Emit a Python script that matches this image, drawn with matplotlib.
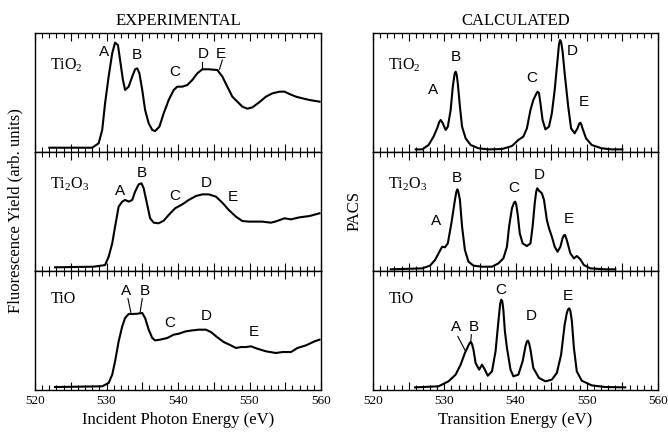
import matplotlib.pyplot as plt
from matplotlib.ticker import MultipleLocator, FuncFormatter

plt.rcParams['font.family'] = 'Liberation Serif'
plt.rcParams['mathtext.fontset'] = 'custom'
plt.rcParams['mathtext.rm'] = 'Liberation Serif'
plt.rcParams['mathtext.default'] = 'rm'

# ---- experimental spectra (energy in eV, intensity in arb. units 0-100)
exp_tio2_e = [522.0, 528.0, 528.9, 529.4, 529.8, 530.3, 530.8, 531.2, 531.6, 531.9, 532.3,
              532.6, 533.1, 533.6, 534.0, 534.3, 534.6, 535.0, 535.4, 535.9, 536.4, 536.8,
              537.4, 538.0, 538.7, 539.4, 539.9, 540.6, 541.3, 542.0, 542.7, 543.4, 544.3,
              545.5, 546.2, 546.9, 547.6, 548.3, 549.0, 549.7, 550.4, 551.3, 552.3, 553.2,
              554.2, 554.9, 555.6, 556.5, 557.4, 558.4, 559.8]
exp_tio2_y = [3.6, 3.6, 7.3, 18.5, 40.9, 63.4, 83.0, 91.9, 89.9, 77.3, 60.5,
              52.1, 54.9, 63.4, 69.5, 70.3, 66.1, 52.1, 35.3, 24.1, 18.5, 17.6,
              21.3, 32.5, 43.7, 52.1, 54.9, 54.9, 56.3, 60.5, 66.1, 69.5, 69.5,
              68.9, 63.4, 54.9, 46.5, 42.3, 38.1, 36.4, 37.5, 41.5, 46.5, 49.3,
              50.7, 50.7, 48.7, 46.5, 45.1, 43.7, 42.3]

exp_ti2o3_e = [522.8, 528.2, 529.8, 530.3, 530.8, 531.2, 531.7, 532.2, 532.6, 533.1, 533.6,
               534.0, 534.5, 534.9, 535.2, 535.7, 536.1, 536.6, 537.3, 538.0, 538.7, 539.6,
               540.6, 541.5, 542.5, 543.4, 544.3, 545.3, 546.2, 547.1, 548.1, 549.0, 549.9,
               551.8, 553.0, 553.7, 554.9, 555.8, 557.0, 558.4, 559.8]
exp_ti2o3_y = [3.1, 3.6, 5.0, 12.0, 23.2, 37.3, 54.1, 58.3, 59.7, 58.3, 59.7,
               66.7, 72.8, 73.7, 69.5, 55.5, 44.3, 40.6, 40.1, 42.3, 47.1, 52.7,
               56.0, 59.7, 63.0, 64.4, 64.4, 62.5, 57.4, 51.3, 45.7, 42.0, 41.5,
               41.5, 40.6, 41.7, 44.3, 43.4, 45.1, 46.2, 48.5]

exp_tio_e = [522.8, 529.4, 530.3, 530.8, 531.2, 531.7, 532.2, 532.6, 533.1, 533.8, 534.3,
             535.0, 535.4, 535.9, 536.4, 536.8, 537.5, 538.5, 539.4, 540.1, 541.1, 542.0,
             542.9, 543.9, 544.6, 545.5, 546.4, 547.4, 548.1, 548.8, 549.5, 550.2, 551.1,
             552.3, 553.7, 554.6, 555.8, 556.7, 557.9, 559.1, 559.8]
exp_tio_y = [2.5, 3.1, 5.9, 12.9, 24.1, 40.9, 53.5, 60.5, 63.9, 63.9, 64.1,
             64.7, 60.5, 50.7, 43.7, 41.7, 42.3, 43.7, 46.5, 47.3, 49.3, 50.1,
             50.7, 50.7, 48.7, 44.3, 40.3, 37.5, 35.3, 36.1, 36.1, 36.7, 34.7,
             32.5, 31.1, 31.9, 31.9, 35.3, 37.5, 40.9, 42.3]

# ---- calculated spectra
calc_tio2_e = [526.0, 526.9, 527.8, 528.5, 529.0, 529.3, 529.5, 529.8, 530.2, 530.5, 530.9,
               531.2, 531.45, 531.6, 531.75, 531.9, 532.2, 532.5, 533.0, 533.7, 534.8, 536.2,
               538.1, 539.5, 540.4, 541.1, 541.6, 542.1, 542.5, 542.9, 543.1, 543.3, 543.5,
               543.8, 544.2, 544.7, 545.1, 545.5, 545.9, 546.1, 546.25, 546.4, 546.6, 546.9,
               547.4, 547.8, 548.3, 548.7, 548.95, 549.1, 549.25, 549.4, 549.9, 550.7, 552.1,
               553.5, 555.0]
calc_tio2_y = [2.2, 2.2, 5.9, 12.9, 19.9, 25.2, 26.9, 24.1, 18.5, 21.3, 35.3,
               54.9, 65.5, 67.5, 65.0, 57.7, 38.1, 21.3, 11.5, 5.9, 3.1, 2.2,
               2.5, 5.0, 10.1, 12.9, 19.9, 35.3, 43.7, 48.7, 50.7, 49.5, 40.9,
               26.9, 19.0, 21.3, 32.5, 52.1, 77.3, 90.5, 94.1, 92.5, 85.0, 66.1,
               38.1, 19.9, 15.7, 19.9, 23.8, 24.6, 23.0, 19.9, 11.5, 5.9, 3.1,
               2.2, 2.2]

calc_ti2o3_e = [522.5, 526.9, 528.0, 528.7, 529.2, 529.7, 530.1, 530.5, 531.0, 531.5, 531.7,
                531.85, 532.0, 532.2, 532.5, 532.9, 533.4, 534.1, 535.3, 536.7, 537.6, 538.3,
                538.8, 539.1, 539.5, 539.8, 539.95, 540.1, 540.3, 540.6, 541.0, 541.6, 542.1,
                542.4, 542.7, 542.9, 543.05, 543.3, 543.7, 544.0, 544.4, 544.7, 545.1, 545.5,
                545.9, 546.3, 546.6, 546.8, 546.95, 547.2, 547.7, 548.2, 548.6, 549.1, 549.6,
                550.5, 552.6, 554.0]
calc_ti2o3_y = [1.4, 2.2, 4.5, 9.2, 14.8, 20.4, 19.9, 23.2, 40.1, 59.7, 66.5,
                68.6, 66.0, 59.7, 37.3, 17.6, 7.8, 4.5, 3.6, 3.6, 6.4, 10.6,
                20.4, 37.3, 52.7, 57.5, 58.3, 56.0, 48.0, 31.7, 23.2, 21.0, 23.2,
                37.3, 56.9, 66.5, 69.5, 67.5, 65.3, 59.7, 42.9, 35.9, 28.9, 20.4,
                16.2, 20.4, 27.5, 30.0, 30.3, 26.0, 14.8, 10.6, 12.6, 9.8, 5.0,
                2.2, 1.4, 1.4]

calc_tio_e = [525.9, 529.2, 530.6, 531.6, 532.3, 532.9, 533.4, 533.6, 533.75, 533.9, 534.1,
              534.4, 534.9, 535.3, 535.7, 536.1, 536.7, 537.2, 537.6, 537.85, 538.0, 538.15,
              538.3, 538.5, 538.8, 539.3, 539.7, 540.4, 541.0, 541.4, 541.6, 541.75, 541.9,
              542.1, 542.5, 543.3, 544.2, 545.1, 545.8, 546.4, 546.9, 547.2, 547.4, 547.55,
              547.7, 547.9, 548.2, 548.6, 549.3, 550.7, 552.6, 555.4]
calc_tio_y = [2.2, 3.1, 7.3, 12.9, 21.3, 31.1, 37.5, 39.8, 40.3, 38.5, 33.9,
              22.7, 17.1, 21.3, 17.1, 12.0, 15.7, 32.5, 57.7, 72.5, 75.9, 74.5,
              67.0, 50.0, 35.3, 17.1, 11.5, 12.9, 24.1, 36.7, 40.8, 41.5, 39.5,
              33.9, 18.5, 10.1, 7.3, 8.7, 14.3, 29.7, 54.9, 64.7, 68.0, 68.6,
              66.5, 58.5, 35.3, 15.7, 7.8, 3.9, 2.5, 2.2]

compounds = ['TiO$_2$', 'Ti$_2$O$_3$', 'TiO']
compound_pos = [(524.4, 73), (524.8, 72.5), (524.0, 76.8)]

# peak letters: (letter, energy, height)
exp_letters = [
    [('A', 529.6, 84), ('B', 534.3, 81.5), ('C', 539.6, 67.5), ('D', 543.5, 82), ('E', 546.0, 82)],
    [('A', 531.9, 67.5), ('B', 534.9, 82.6), ('C', 539.6, 63), ('D', 544.0, 73.7), ('E', 547.6, 62.5)],
    [('A', 532.8, 82.9), ('B', 535.4, 82.9), ('C', 538.9, 56.3), ('D', 543.9, 62.5), ('E', 550.6, 49)],
]
calc_letters = [
    [('A', 528.4, 52), ('B', 531.6, 80), ('C', 542.3, 62), ('D', 547.9, 85), ('E', 549.6, 42)],
    [('A', 528.8, 42.3), ('B', 531.8, 78), ('C', 539.7, 69.5), ('D', 543.4, 81), ('E', 547.5, 43.4)],
    [('A', 531.6, 52.7), ('B', 534.1, 52.7), ('C', 537.9, 84), ('D', 542.2, 62), ('E', 547.3, 79)],
]
# leader lines from letter to feature: (x0, x1), (y0, y1)
exp_leaders = [
    [((543.3, 543.3), (75.9, 69.5)), ((546.2, 545.8), (77.3, 69.5))],
    [],
    [((533.0, 533.4), (76.8, 65.3)), ((535.0, 534.7), (76.8, 65.3))],
]
calc_leaders = [
    [],
    [],
    [((531.9, 533.0), (45.1, 32.5)), ((533.8, 533.7), (46.5, 39.5))],
]

exp_data = [(exp_tio2_e, exp_tio2_y), (exp_ti2o3_e, exp_ti2o3_y), (exp_tio_e, exp_tio_y)]
calc_data = [(calc_tio2_e, calc_tio2_y), (calc_ti2o3_e, calc_ti2o3_y), (calc_tio_e, calc_tio_y)]

fig = plt.figure(figsize=(6.68, 4.33), dpi=100)

W, H = 668.0, 433.0
top_px, panel_px = 33.0, 119.0
columns = [(35.0, 286.0, exp_data, exp_letters, exp_leaders),
           (373.0, 285.0, calc_data, calc_letters, calc_leaders)]

axes = []
for left_px, width_px, data, letters, leaders in columns:
    col = []
    for i in range(3):
        bottom = 1 - (top_px + panel_px * (i + 1)) / H
        ax = fig.add_axes([left_px / W, bottom, width_px / W, panel_px / H])
        e, y = data[i]
        ax.plot(e, y, color='black', lw=1.5, solid_joinstyle='round')
        ax.set_xlim(520, 560)
        ax.set_ylim(0, 100)
        ax.set_yticks([])
        ax.xaxis.set_major_locator(MultipleLocator(5))
        ax.xaxis.set_minor_locator(MultipleLocator(1))
        ax.xaxis.set_major_formatter(FuncFormatter(
            lambda v, p: '%d' % v if round(v) % 10 == 0 else ''))
        ax.tick_params(axis='x', which='both', direction='in', top=True, bottom=True,
                       labelsize=9.5, width=0.8)
        ax.tick_params(axis='x', which='major', length=6)
        ax.tick_params(axis='x', which='minor', length=3.5)
        if i < 2:
            ax.tick_params(axis='x', labelbottom=False)
        for s in ax.spines.values():
            s.set_linewidth(1.0)
        cx, cy = compound_pos[i]
        ax.text(cx, cy, compounds[i], fontsize=11.5, ha='center', va='center')
        for lab, lx, ly in letters[i]:
            ax.text(lx, ly, lab, fontsize=11, family='Liberation Sans',
                    ha='center', va='center')
        for xs, ys in leaders[i]:
            ax.plot(xs, ys, color='black', lw=0.8)
        col.append(ax)
    axes.append(col)

axes[0][0].set_title('EXPERIMENTAL', fontsize=12, pad=6)
axes[1][0].set_title('CALCULATED', fontsize=12, pad=6)
axes[0][2].set_xlabel('Incident Photon Energy (eV)', fontsize=12, labelpad=4)
axes[1][2].set_xlabel('Transition Energy (eV)', fontsize=12, labelpad=4)

fig.text(15 / W, 1 - 211 / H, 'Fluorescence Yield (arb. units)', rotation=90,
         fontsize=12, ha='center', va='center')
fig.text(355 / W, 1 - 211 / H, 'PACS', rotation=90, fontsize=12,
         ha='center', va='center')

fig.savefig('out.png', dpi=100)
